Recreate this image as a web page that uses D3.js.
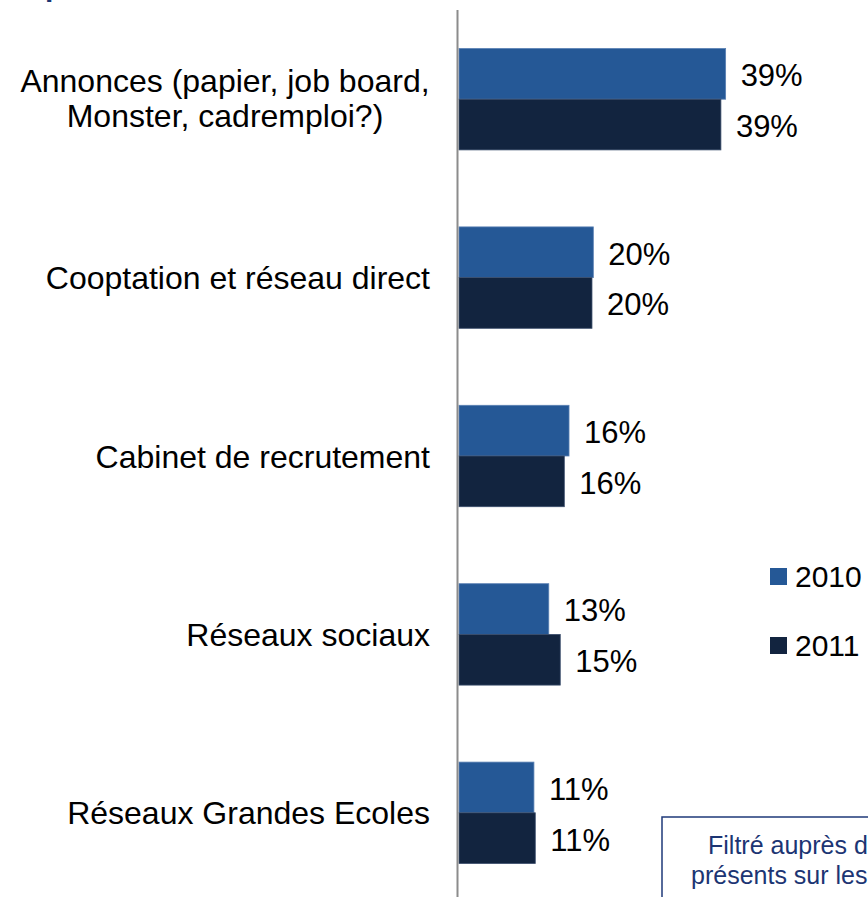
<!DOCTYPE html>
<html>
<head>
<meta charset="utf-8">
<script src="https://cdn.jsdelivr.net/npm/d3@7"></script>
<style>
  body { margin: 0; background: #fff; }
  svg { display: block; font-family: "Liberation Sans", Arial, sans-serif; }
</style>
</head>
<body>
<div id="chart"></div>
<script>
// data
const categories = [
  "Annonces (papier, job board,|Monster, cadremploi?)",
  "Cooptation et réseau direct",
  "Cabinet de recrutement",
  "Réseaux sociaux",
  "Réseaux Grandes Ecoles"
];
const years = ["2010", "2011"];
const values2010 = [39.5, 19.9, 16.3, 13.3, 11.1];
const values2011 = [38.8, 19.7, 15.6, 15.0, 11.3];
const labels2010 = ["39%", "20%", "16%", "13%", "11%"];
const labels2011 = ["39%", "20%", "16%", "15%", "11%"];
const noteLines = ["Filtré auprès des cadres", "présents sur les réseaux sociaux"];

const colors = { "2010": "#255896", "2011": "#12243f" };
const strokes = { "2010": "#5a80b3", "2011": "#3b4e6c" };

const W = 868, H = 897;
const svg = d3.select("#chart").append("svg")
  .attr("width", W)
  .attr("height", H);

// scales
const x = d3.scaleLinear().domain([0, 10]).range([459, 526.5]);
const y = d3.scalePoint().domain(categories).range([99.2, 812.8]);
const ySub = d3.scaleBand().domain(years).range([-50.7, 50.7]);

const rows = categories.map((c, i) => ({
  cat: c,
  bars: [
    { year: "2010", v: values2010[i], label: labels2010[i] },
    { year: "2011", v: values2011[i], label: labels2011[i] }
  ]
}));

// cut-off title at the top edge
svg.append("text")
  .attr("x", 45)
  .attr("y", -4)
  .attr("font-size", 30)
  .attr("font-weight", "bold")
  .attr("fill", "#1c3573")
  .text("p");

const g = svg.selectAll("g.row")
  .data(rows)
  .enter().append("g")
  .attr("class", "row")
  .attr("transform", d => `translate(0,${y(d.cat)})`);

g.selectAll("rect")
  .data(d => d.bars)
  .enter().append("rect")
  .attr("x", x(0))
  .attr("y", d => ySub(d.year))
  .attr("width", d => x(d.v) - x(0))
  .attr("height", ySub.bandwidth())
  .style("fill", d => colors[d.year])
  .style("stroke", d => strokes[d.year])
  .style("stroke-width", 0.8);

g.selectAll("text.val")
  .data(d => d.bars)
  .enter().append("text")
  .attr("class", "val")
  .attr("x", d => x(d.v) + 15)
  .attr("y", d => ySub(d.year) + ySub.bandwidth() / 2)
  .attr("dy", "0.4em")
  .attr("font-size", 31)
  .attr("fill", "#000")
  .text(d => d.label);

// category labels (one or two lines)
g.each(function(d) {
  const lines = d.cat.split("|");
  const t = d3.select(this).append("text")
    .attr("font-size", 32)
    .attr("fill", "#000");
  if (lines.length === 1) {
    t.attr("x", 430).attr("y", 0).attr("dy", "0.36em")
      .attr("text-anchor", "end")
      .text(lines[0]);
  } else {
    lines.forEach((ln, k) => {
      t.append("tspan")
        .attr("x", 225)
        .attr("y", -7 + k * 35)
        .attr("text-anchor", "middle")
        .text(ln);
    });
  }
});

// vertical axis line
svg.append("line")
  .attr("x1", 457.5).attr("x2", 457.5)
  .attr("y1", 10).attr("y2", H)
  .style("stroke", "#8c8c8c")
  .style("stroke-width", 2);

// legend
const legend = svg.selectAll("g.legend")
  .data(years)
  .enter().append("g")
  .attr("class", "legend")
  .attr("transform", (d, i) => `translate(770,${568 + i * 69})`);

legend.append("rect")
  .attr("width", 17).attr("height", 17)
  .style("fill", d => colors[d]);

legend.append("text")
  .attr("x", 25)
  .attr("y", 19)
  .attr("font-size", 30)
  .attr("fill", "#000")
  .text(d => d);

// note box, cut by the right edge
svg.append("rect")
  .attr("x", 662).attr("y", 817)
  .attr("width", 320).attr("height", 200)
  .style("fill", "#fff")
  .style("stroke", "#1f3a7a")
  .style("stroke-width", 1.5);

svg.selectAll("text.note")
  .data(noteLines)
  .enter().append("text")
  .attr("class", "note")
  .attr("x", (d, i) => i === 0 ? 708 : 691)
  .attr("y", (d, i) => 854 + i * 30)
  .attr("font-size", 25)
  .attr("fill", "#1c3573")
  .text(d => d);
</script>
</body>
</html>
